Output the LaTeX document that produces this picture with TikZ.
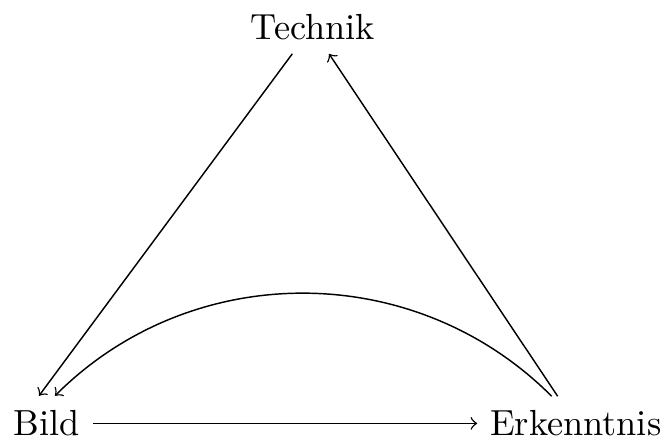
\documentclass[tikz,border=0pt]{standalone}
\usetikzlibrary{calc}
\begin{document}
\begin{tikzpicture}[x=0.27548pt,y=0.27548pt,
  lbl/.style={inner sep=3.333pt},
  arr/.style={->}]
\useasboundingbox (0,0) rectangle (664,440);
\node[lbl] (T) at (313,412.8) {Technik};
\node[lbl] (B) at (47,16.6) {Bild};
\node[lbl] (E) at (575.7,16.6) {Erkenntnis};
\draw[arr] ($(T.south)+(-20.7,-1)$) -- ($(B.north)+(-8,2)$);
\draw[arr] ($(E.north)+(-18,1.5)$) -- ($(T.south)+(16,-1)$);
\draw[arr] (B) -- (E);
\draw[arr] ($(E.north)+(-24,1.5)$) to[bend right=45] ($(B.north)+(8,2)$);
\end{tikzpicture}
\end{document}
